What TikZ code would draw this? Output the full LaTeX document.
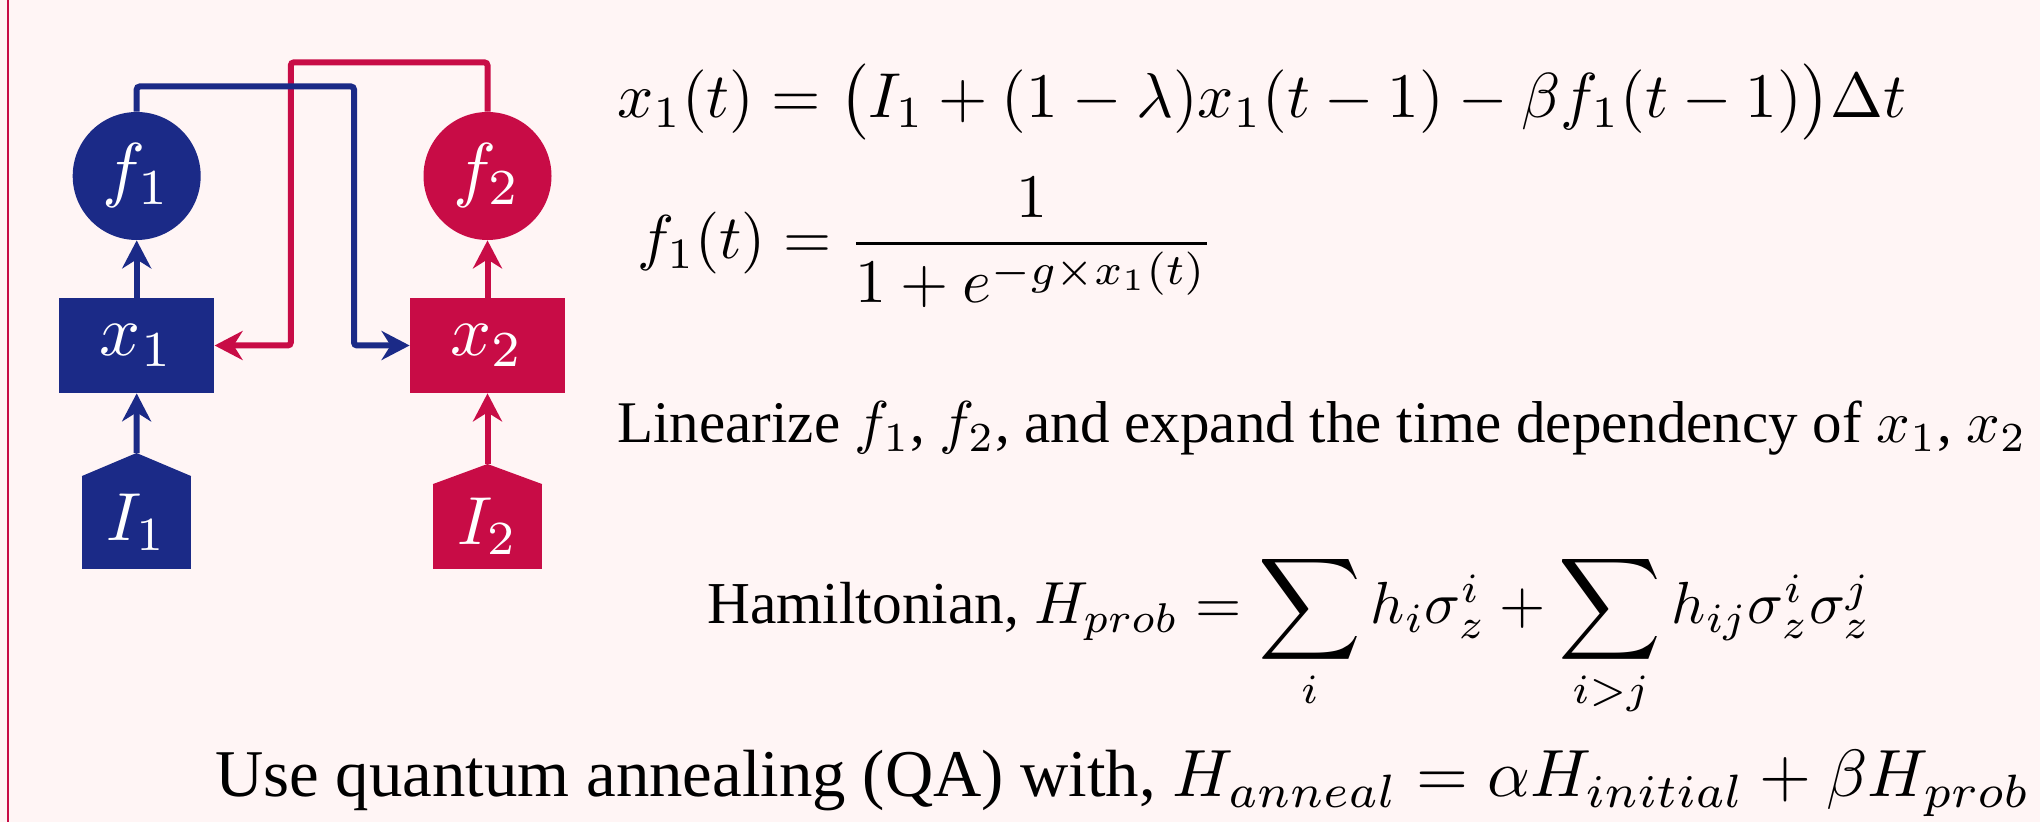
\documentclass[tikz,border=0pt]{standalone}
\usepackage{amsmath}
\usepackage{fontspec}
\newfontfamily\txtfont{Liberation Serif}
\usetikzlibrary{arrows.meta}
\definecolor{navy}{RGB}{27,42,135}
\definecolor{crim}{RGB}{200,12,70}
\definecolor{bgpink}{RGB}{255,245,245}
\newcommand{\biglabel}[2]{\scalebox{#1}{$#2$}}
\newcommand{\bigsum}{\mathop{\vcenter{\hbox{\scalebox{1.2}{$\displaystyle\sum$}}}}\limits}
\begin{document}
\begin{tikzpicture}[x=0.5pt,y=-0.5pt,
  conn/.style={line width=3pt, rounded corners=1.5pt, -{Stealth[length=14pt,width=14.5pt,inset=4.5pt]}},
  nodefont/.style={text=white, inner sep=0pt},
  circ/.style={circle, minimum size=64pt, nodefont},
  boxnode/.style={rectangle, minimum width=77.5pt, minimum height=47.5pt, nodefont},
  txt/.style={anchor=base west, inner sep=0pt}]
\fill[bgpink] (0,0) rectangle (2040,822);
\useasboundingbox (0,0) rectangle (2040,822);
\draw[crim, line width=1.25pt] (8,0) -- (8,822);

% nodes
\node[circ, fill=navy] (f1) at (136.7,176) {\biglabel{3.6}{f_1}};
\node[circ, fill=crim] (f2) at (487.5,176) {\biglabel{3.6}{f_2}};
\node[boxnode, fill=navy] (x1) at (136.7,345.5) {\biglabel{3.6}{x_1}};
\node[boxnode, fill=crim] (x2) at (487.5,345.5) {\biglabel{3.6}{x_2}};
\node[rectangle, nodefont, fill=navy, minimum width=54.5pt, minimum height=46.5pt] (I1) at (136.5,522.5) {\biglabel{3.4}{I_1}};
\node[rectangle, nodefont, fill=crim, minimum width=54.5pt, minimum height=42.5pt] (I2) at (487.5,526.5) {\biglabel{3.4}{I_2}};
\coordinate (I1top) at (136.5,453);
\coordinate (I2top) at (487.5,464);
\fill[navy] ([yshift=-0.3pt]I1.north west) -- (I1top) -- ([yshift=-0.3pt]I1.north east) -- cycle;
\fill[crim] ([yshift=-0.3pt]I2.north west) -- (I2top) -- ([yshift=-0.3pt]I2.north east) -- cycle;

% connectors
\coordinate (b1) at (354,86.5);
\coordinate (r1) at (290.8,62.4);
\draw[conn, navy] (I1top) -- (x1.south);
\draw[conn, navy] (x1.north) -- (f1.south);
\draw[conn, crim] (I2top) -- (x2.south);
\draw[conn, crim] (x2.north) -- (f2.south);
\draw[conn, crim] (f2.north) |- (r1) |- (x1.east);
\draw[conn, navy] (f1.north) |- (b1) |- (x2.west);

% text
\node[txt] (eq1) at (617,118) {\resizebox{644.5pt}{!}{$x_1(t) = \bigl(I_1 + (1-\lambda)x_1(t-1) - \beta f_1(t-1)\bigr)\Delta t$}};
\node[txt] (eq2) at (637,259) {\resizebox{288.5pt}{!}{$f_1(t) = \dfrac{1}{1+e^{-g\times x_1(t)}}$}};
\node[txt] (lin) at (617,443) {\resizebox{704.5pt}{!}{\txtfont Linearize $f_1$, $f_2$, and expand the time dependency of $x_1$, $x_2$}};
\node[txt] (ham) at (707,624) {\resizebox{581.5pt}{!}{\txtfont Hamiltonian, $H_{prob} = \bigsum_i h_i\sigma_z^i + \bigsum_{i>j} h_{ij}\sigma_z^i\sigma_z^j$}};
\node[txt] (qa) at (215,797) {\resizebox{907.5pt}{!}{\txtfont Use quantum annealing (QA) with, $H_{anneal} = \alpha H_{initial} + \beta H_{prob}$}};
\end{tikzpicture}
\end{document}
